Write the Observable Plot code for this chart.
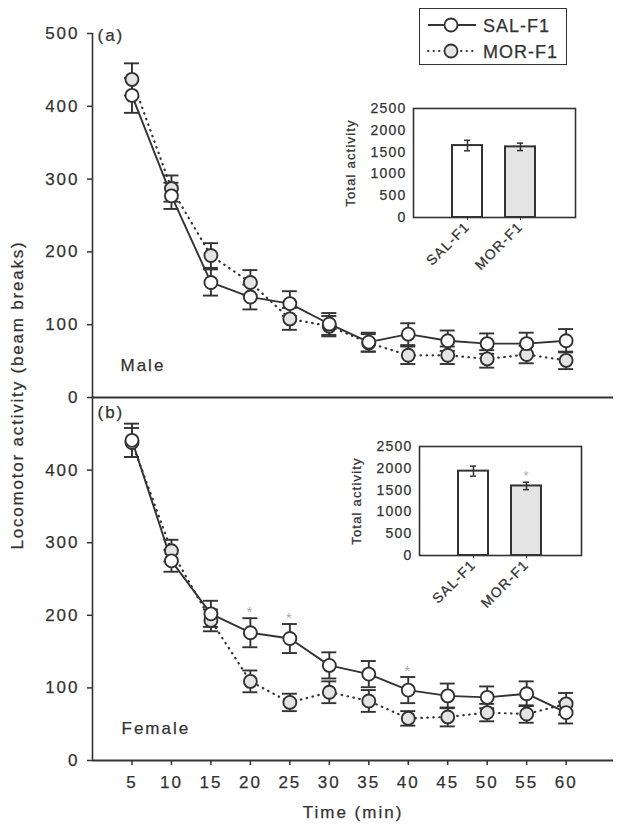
<!DOCTYPE html>
<html><head><meta charset="utf-8">
<script src="https://cdn.jsdelivr.net/npm/d3@7"></script>
<script src="https://cdn.jsdelivr.net/npm/@observablehq/plot@0.6"></script>
<style>
body{margin:0;background:#fff;}
#wrap{position:relative;width:624px;height:834px;overflow:hidden;font-family:"Liberation Sans",Arial,sans-serif;color:#333;}
#wrap > *{position:absolute;}
#wrap svg text{letter-spacing:2px;stroke:#333;stroke-width:0.25px;}
#wrap .inset svg text{letter-spacing:1.2px;stroke-width:0.25px;}
#wrap svg g[fill="#aaaaaa"] text{stroke:none;}
#ytitle{width:400px;height:20px;line-height:20px;text-align:center;font-size:17px;letter-spacing:1.8px;transform:rotate(-90deg);-webkit-text-stroke:0.25px #333;}
#legend{border:1.5px solid #333;box-sizing:border-box;}
#legend .row{position:absolute;left:0;height:26px;width:100%;}
#legend svg{position:absolute;left:0;top:0;}
#legend span{position:absolute;left:63px;top:2px;font-size:18px;letter-spacing:1px;line-height:22px;-webkit-text-stroke:0.25px #333;}
</style></head><body><div id="wrap"></div>
<script>
(function(){
// ---- data ----
const times = [5, 10, 15, 20, 25, 30, 35, 40, 45, 50, 55, 60];
const seriesNames = ["SAL-F1", "MOR-F1"];
const maleSal    = [415, 277, 158, 138, 129, 101, 76, 87, 78, 74, 74, 78];
const maleSalErr = [24, 18, 18, 17, 17, 15, 13, 15, 14, 14, 15, 16];
const maleMor    = [437, 287, 195, 158, 108, 98, 75, 58, 58, 53, 59, 51];
const maleMorErr = [22, 18, 17, 17, 15, 14, 12, 12, 12, 12, 12, 12];
const femaleSal    = [441, 275, 202, 176, 168, 131, 119, 97, 89, 87, 92, 66];
const femaleSalErr = [23, 15, 18, 20, 20, 18, 18, 18, 17, 15, 17, 15];
const femaleMor    = [438, 289, 193, 109, 80, 94, 82, 58, 60, 66, 64, 78];
const femaleMorErr = [20, 15, 15, 15, 12, 15, 15, 10, 13, 12, 12, 15];
const femaleSigTimes = [20, 25, 40];
const yTicksTop = [0, 100, 200, 300, 400, 500];
const yTicksBottom = [0, 100, 200, 300, 400];
const insetGroups = ["SAL-F1", "MOR-F1"];
const maleTotal = [1650, 1620];
const maleTotalErr = [120, 85];
const femaleTotal = [1935, 1595];
const femaleTotalErr = [115, 85];
const femaleTotalSig = ["MOR-F1"];
const insetTicks = [0, 500, 1000, 1500, 2000, 2500];

// ---- helpers ----
const INK = "#333333";
const MORFILL = "#e4e4e4";
const FONT = "'Liberation Sans', Arial, sans-serif";
const wrap = document.getElementById("wrap");
function rows(vals, errs) { return times.map((t, i) => ({t, v: vals[i], e: errs[i]})); }

function seriesMarks(sal, mor) {
  const marks = [
    Plot.line(mor, {x: "t", y: "v", stroke: INK, strokeWidth: 2.2, strokeDasharray: "0.5,5.5", strokeLinecap: "round"}),
    Plot.line(sal, {x: "t", y: "v", stroke: INK, strokeWidth: 1.9})
  ];
  for (const r of [mor, sal]) {
    marks.push(
      Plot.ruleX(r, {x: "t", y1: d => d.v - d.e, y2: d => d.v + d.e, stroke: INK, strokeWidth: 1.9}),
      Plot.ruleY(r, {y: d => d.v + d.e, x1: d => d.t - 0.95, x2: d => d.t + 0.95, stroke: INK, strokeWidth: 1.9}),
      Plot.ruleY(r, {y: d => d.v - d.e, x1: d => d.t - 0.95, x2: d => d.t + 0.95, stroke: INK, strokeWidth: 1.9})
    );
  }
  marks.push(
    Plot.dot(mor, {x: "t", y: "v", r: 6.5, fill: MORFILL, stroke: INK, strokeWidth: 1.9}),
    Plot.dot(sal, {x: "t", y: "v", r: 6.5, fill: "white", stroke: INK, strokeWidth: 1.9})
  );
  return marks;
}

function place(el, left, topPx) { el.style.left = left + "px"; el.style.top = topPx + "px"; wrap.appendChild(el); return el; }

// ---- top panel (male) ----
const maleS = rows(maleSal, maleSalErr), maleM = rows(maleMor, maleMorErr);
const topPlot = Plot.plot({
  width: 624, height: 400, marginLeft: 92, marginRight: 11, marginTop: 33, marginBottom: 3,
  x: {domain: [0, 66], axis: null}, y: {domain: [0, 500]},
  style: {fontFamily: FONT, fontSize: "17px", color: INK, background: "transparent", overflow: "visible"},
  marks: [
    Plot.axisY({ticks: yTicksTop, tickSize: 5, tickPadding: 8, label: null, fontSize: 17, strokeWidth: 1.5}),
    Plot.ruleX([0], {stroke: INK, strokeWidth: 1.6}),
    Plot.ruleY([0], {stroke: INK, strokeWidth: 1.8}),
    ...seriesMarks(maleS, maleM),
    Plot.text(["(a)"], {frameAnchor: "top-left", textAnchor: "start", lineAnchor: "middle", dx: 5, dy: 2, fontSize: 17, fill: INK}),
    Plot.text(["Male"], {frameAnchor: "bottom-left", textAnchor: "start", lineAnchor: "middle", dx: 28, dy: -32, fontSize: 17, fill: INK})
  ]
});
place(topPlot, 0, 0);

// ---- bottom panel (female) ----
const femS = rows(femaleSal, femaleSalErr), femM = rows(femaleMor, femaleMorErr);
const sig = femS.filter(d => femaleSigTimes.includes(d.t));
const bottomPlot = Plot.plot({
  width: 624, height: 454, marginLeft: 92, marginRight: 11, marginTop: 17, marginBottom: 74,
  x: {domain: [0, 66]}, y: {domain: [0, 500]},
  style: {fontFamily: FONT, fontSize: "17px", color: INK, background: "transparent", overflow: "visible"},
  marks: [
    Plot.axisY({ticks: yTicksBottom, tickSize: 5, tickPadding: 8, label: null, fontSize: 17, strokeWidth: 1.5}),
    Plot.axisX({ticks: times, tickSize: 5, tickPadding: 10, label: null, fontSize: 17, strokeWidth: 1.5}),
    Plot.ruleX([0], {stroke: INK, strokeWidth: 1.6}),
    Plot.ruleY([0], {stroke: INK, strokeWidth: 1.8}),
    ...seriesMarks(femS, femM),
    Plot.text(sig, {x: "t", y: d => d.v + d.e, text: () => "*", dy: -6, fontSize: 15, fill: "#aaaaaa"}),
    Plot.text(["(b)"], {frameAnchor: "top-left", textAnchor: "start", lineAnchor: "middle", dx: 5, dy: 15, fontSize: 17, fill: INK}),
    Plot.text(["Female"], {frameAnchor: "bottom-left", textAnchor: "start", lineAnchor: "middle", dx: 29, dy: -32, fontSize: 17, fill: INK}),
    Plot.text(["Time (min)"], {frameAnchor: "bottom", lineAnchor: "middle", dy: 52, fontSize: 17, fill: INK})
  ]
});
place(bottomPlot, 0, 380);

// ---- y-axis title ----
const yt = document.createElement("div");
yt.id = "ytitle";
yt.textContent = "Locomotor activity (beam breaks)";
place(yt, 18 - 200, 395 - 10);

// ---- insets ----
function inset(vals, errs, sigGroups) {
  const data = insetGroups.map((g, i) => ({g, v: vals[i], e: errs[i]}));
  const div = document.createElement("div");
  div.className = "inset";
  div.appendChild(Plot.plot({
    width: 260, height: 180, marginLeft: 83, marginRight: 15, marginTop: 18, marginBottom: 53,
    x: {domain: insetGroups, paddingInner: 0.43, paddingOuter: 0.72},
    y: {domain: [0, 2500]},
    style: {fontFamily: FONT, fontSize: "14px", color: INK, background: "transparent", overflow: "visible"},
    marks: [
      Plot.barY(data.filter(d => d.g === insetGroups[0]), {x: "g", y: "v", fill: "white", stroke: INK, strokeWidth: 2}),
      Plot.barY(data.filter(d => d.g === insetGroups[1]), {x: "g", y: "v", fill: MORFILL, stroke: INK, strokeWidth: 2}),
      Plot.ruleX(data, {x: "g", y1: d => d.v - d.e, y2: d => d.v + d.e, stroke: INK, strokeWidth: 1.5}),
      Plot.tickY(data, {x: "g", y: d => d.v + d.e, insetLeft: 12, insetRight: 12, stroke: INK, strokeWidth: 1.5}),
      Plot.tickY(data, {x: "g", y: d => d.v - d.e, insetLeft: 12, insetRight: 12, stroke: INK, strokeWidth: 1.5}),
      Plot.text(data.filter(d => sigGroups.includes(d.g)), {x: "g", y: d => d.v + d.e, text: () => "*", dy: -6, fontSize: 13, fill: "#aaaaaa"}),
      Plot.frame({stroke: INK, strokeWidth: 1.6}),
      Plot.axisY({ticks: insetTicks, tickFormat: d => String(d), tickSize: 0, tickPadding: 7, label: null, fontSize: 14}),
      Plot.axisX({tickRotate: -45, tickSize: 3, tickPadding: 4, label: null, fontSize: 14}),
      Plot.text(["Total activity"], {frameAnchor: "left", textAnchor: "middle", lineAnchor: "middle", rotate: -90, dx: -63, fontSize: 13, fill: INK})
    ]
  }));
  return div;
}
place(inset(maleTotal, maleTotalErr, []), 330, 90);
place(inset(femaleTotal, femaleTotalErr, femaleTotalSig), 336, 428);

// ---- legend ----
const legend = document.createElement("div");
legend.id = "legend";
legend.style.width = "148px"; legend.style.height = "57px";
seriesNames.forEach((name, i) => {
  const row = document.createElement("div");
  row.className = "row";
  row.style.top = (4 + i * 26) + "px";
  const dash = i === 0 ? "" : 'stroke-dasharray="0.5,5" stroke-linecap="round"';
  const fill = i === 0 ? "white" : MORFILL;
  row.innerHTML = `<svg width="62" height="26"><line x1="8" x2="56" y1="12" y2="12" stroke="${INK}" stroke-width="1.8" ${dash}/><circle cx="31" cy="12" r="6.5" fill="${fill}" stroke="${INK}" stroke-width="1.8"/></svg><span>${name}</span>`;
  legend.appendChild(row);
});
place(legend, 419, 8);
})();
</script></body></html>
